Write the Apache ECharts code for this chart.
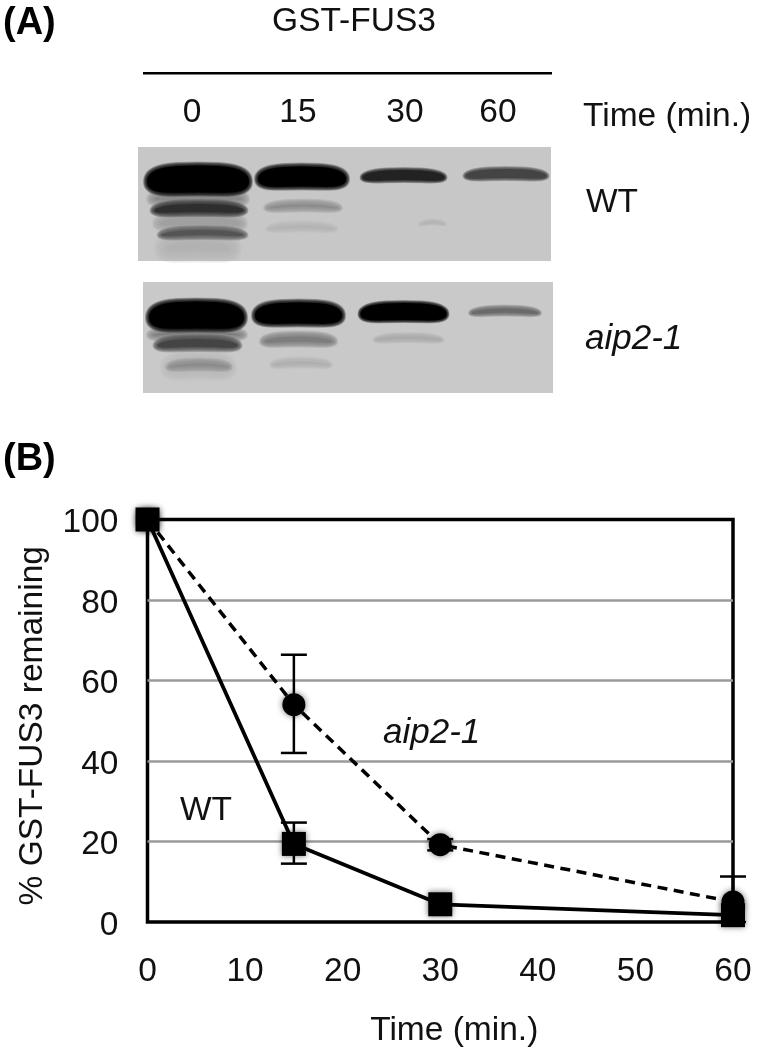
<!DOCTYPE html>
<html><head><meta charset="utf-8">
<style>html,body{margin:0;padding:0;background:#fff}#c{width:758px;height:1049px}</style>
<script src="https://cdn.jsdelivr.net/npm/echarts@6/dist/echarts.min.js"></script>
</head><body><div id="c"></div>
<script>
const timeTicks = ['0','10','20','30','40','50','60'];
const wtPoints = [[0,100],[15,19.4],[30,4.4],[60,1.7]];
const aipPoints = [[0,100],[15,54],[30,19.2],[60,5]];
const wtErrors = [[15,14.5,24.7]];
const aipErrors = [[15,42,66.4],[30,17.8,20.6],[60,0,11.3]];
const laneLabels = ['0','15','30','60'];
// gel panels: x0, x1, y0, y1, grey
const gelPanels = [
  [138,551,147,261,'#c7c7c7'],
  [143,553,282,393,'#c9c9c9']
];
// gel bands: x0, x1, y0, y1, grey, softness
const gelBands = [
  [160,236,238,259,'#b2b2b2',6],
  [150,246,192,206,'#8a8a8a',4],
  [156,244,216,231,'#a0a0a0',4],
  [152,246,204,217,'#2e2e2e',2.5],
  [159,246,230,240,'#545454',2.5],
  [145,251,166,197,'#000000',2],
  [266,340,204,212,'#8c8c8c',3],
  [268,335,226,232,'#b2b2b2',3],
  [256,348,167,191,'#000000',2],
  [361,446,171,184,'#222222',1.5],
  [464,548,170,182,'#444444',1.5],
  [420,445,223,226,'#b4b4b4',2],
  [165,232,358,378,'#b9b9b9',5],
  [150,244,330,340,'#7c7c7c',4],
  [155,240,339,352,'#444444',2.5],
  [168,230,363,371,'#8b8b8b',3],
  [147,246,302,333,'#000000',2],
  [262,335,336,347,'#7d7d7d',3],
  [272,330,362,368,'#adadad',3],
  [253,344,303,328,'#000000',2],
  [375,442,337,343,'#a8a8a8',2.5],
  [359,448,304,324,'#000000',1.5],
  [470,540,309,317,'#6a6a6a',2]
];
const FONT = '"Liberation Sans", Arial, sans-serif';
const FS = 33.5;
const txt = (x,y,s,o={}) => ({type:'text',x,y,silent:true,style:Object.assign({text:s,font:`${FS}px ${FONT}`,fill:'#111',textAlign:'left',textVerticalAlign:'middle'},o)});
const chart = echarts.init(document.getElementById('c'),null,{renderer:'canvas'});
const panelRender = (params,api)=>{
  const a=api.coord([api.value(0),api.value(2)]), b=api.coord([api.value(1),api.value(3)]);
  return {type:'rect',shape:{x:a[0],y:a[1],width:b[0]-a[0],height:b[1]-a[1]},style:{fill:api.value(4)}};
};
const bandRender = (params,api)=>{
  const a=api.coord([api.value(0),api.value(2)]), b=api.coord([api.value(1),api.value(3)]);
  const cx=(a[0]+b[0])/2, cy=(a[1]+b[1])/2, soft=api.value(5), g=api.value(4);
  const rx=(b[0]-a[0])/2, ry=(b[1]-a[1])/2, layers=9, children=[];
  for(let i=0;i<layers;i++){
    const d=soft*(1-2*i/(layers-1));
    const pts=[], ax=rx+d, ay=Math.max(ry+d,0.5);
    for(let k=0;k<48;k++){
      const t=k/48*Math.PI*2, c=Math.cos(t), s=Math.sin(t);
      const px=ax*Math.sign(c)*Math.pow(Math.abs(c),0.45);
      const py=ay*Math.sign(s)*Math.pow(Math.abs(s),0.9);
      const arch=2.5*(1-(px/ax)*(px/ax));
      pts.push([cx+px,cy+py-arch]);
    }
    children.push({type:'polygon',shape:{points:pts},style:{fill:g,opacity:i===layers-1?1:0.2}});
  }
  return {type:'group',children};
};
const errRender = (params,api)=>{
  const x=api.value(0), lo=api.coord([x,api.value(1)]), hi=api.coord([x,api.value(2)]);
  const st={stroke:'#000',lineWidth:2.5,fill:'none'}, w=13;
  return {type:'group',children:[
    {type:'line',shape:{x1:lo[0],y1:lo[1],x2:hi[0],y2:hi[1]},style:st},
    {type:'line',shape:{x1:lo[0]-w,y1:lo[1],x2:lo[0]+w,y2:lo[1]},style:st},
    {type:'line',shape:{x1:hi[0]-w,y1:hi[1],x2:hi[0]+w,y2:hi[1]},style:st}
  ]};
};
const shadow={shadowColor:'rgba(0,0,0,0.55)',shadowBlur:6,color:'#000'};
chart.setOption({
  animation:false,
  backgroundColor:'#fff',
  textStyle:{fontFamily:FONT},
  grid:[
    {left:147.5,top:519.5,width:585.5,height:402.5,show:true,borderColor:'#000',borderWidth:3.5,backgroundColor:'transparent',outerBoundsMode:'none',containLabel:false},
    {left:0,top:0,width:758,height:1049,show:false,outerBoundsMode:'none'}
  ],
  xAxis:[
    {type:'value',min:0,max:60,interval:10,gridIndex:0,
     axisLine:{show:false},axisTick:{show:false},splitLine:{show:false},
     axisLabel:{color:'#111',fontSize:FS,margin:33,hideOverlap:false,showMinLabel:true,showMaxLabel:true,formatter:v=>timeTicks[v/10]},
     name:'Time (min.)',nameLocation:'middle',nameGap:92,nameTextStyle:{color:'#111',fontSize:FS,padding:[0,0,0,28]}},
    {type:'value',min:0,max:758,gridIndex:1,show:false}
  ],
  yAxis:[
    {type:'value',min:0,max:100,interval:20,gridIndex:0,
     axisLine:{show:false},axisTick:{show:false},
     splitLine:{show:true,showMinLine:false,showMaxLine:false,lineStyle:{color:'#9a9a9a',width:2.5}},
     axisLabel:{color:'#111',fontSize:FS,margin:29,hideOverlap:false,showMinLabel:true,showMaxLabel:true,verticalAlign:'top',lineHeight:7},
     name:'% GST-FUS3 remaining',nameLocation:'middle',nameGap:98,nameTextStyle:{color:'#111',fontSize:FS,padding:[0,10,0,0]}},
    {type:'value',min:0,max:1049,inverse:true,gridIndex:1,show:false}
  ],
  series:[
    {type:'custom',xAxisIndex:1,yAxisIndex:1,data:gelPanels,renderItem:panelRender,clip:false,silent:true,z:1},
    {type:'custom',xAxisIndex:1,yAxisIndex:1,data:gelBands,renderItem:bandRender,clip:false,silent:true,z:2},
    {type:'custom',data:aipErrors,renderItem:errRender,clip:false,silent:true,z:3},
    {type:'custom',data:wtErrors,renderItem:errRender,clip:false,silent:true,z:3},
    {name:'aip2-1',type:'line',data:aipPoints,clip:false,symbol:'circle',symbolSize:23,
     lineStyle:{color:'#000',width:3.5,type:[10,6.5]},itemStyle:shadow,z:4},
    {name:'WT',type:'line',data:wtPoints,clip:false,symbol:'rect',symbolSize:24,
     lineStyle:{color:'#000',width:3.8},itemStyle:shadow,z:5}
  ],
  graphic:[
    txt(3,24,'(A)',{font:`bold 38px ${FONT}`,fill:'#000'}),
    txt(3,460,'(B)',{font:`bold 38px ${FONT}`,fill:'#000'}),
    txt(354,22,'GST-FUS3',{textAlign:'center'}),
    {type:'rect',shape:{x:143,y:72,width:409,height:2.5},style:{fill:'#000'},silent:true},
    txt(192,113,laneLabels[0],{textAlign:'center'}),
    txt(298,113,laneLabels[1],{textAlign:'center'}),
    txt(405,113,laneLabels[2],{textAlign:'center'}),
    txt(498,113,laneLabels[3],{textAlign:'center'}),
    txt(583,117,'Time (min.)'),
    txt(586,203,'WT'),
    txt(585,339,'aip2-1',{font:`italic 35px ${FONT}`}),
    txt(383,733,'aip2-1',{font:`italic 35px ${FONT}`}),
    txt(180,811,'WT')
  ]
});
</script></body></html>
